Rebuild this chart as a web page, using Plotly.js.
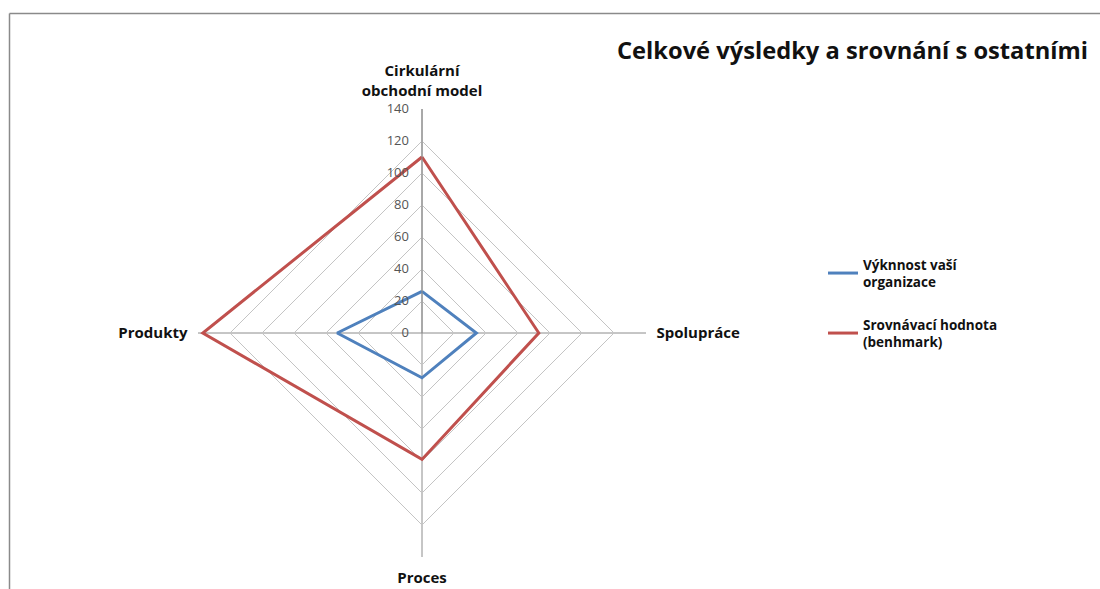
<!DOCTYPE html>
<html>
<head>
<meta charset="utf-8">
<script src="https://cdn.plot.ly/plotly-3.0.1.min.js"></script>
<style>html,body{margin:0;padding:0;background:#fff;}#chart{width:1100px;height:589px;}</style>
</head>
<body>
<div id="chart"></div>
<script>
var categories = ["Cirkulární<br>obchodní model", "Spolupráce", "Proces", "Produkty"];
var seriesNames = ["Výknnost vaší<br>organizace", "Srovnávací hodnota<br>(benhmark)"];
var performance = [26, 34, 28, 53];
var benchmark = [110, 73, 79, 137];
var radialTicks = [0, 20, 40, 60, 80, 100, 120, 140];
var colors = ["#4F81BD", "#C0504D"];
var legendIds = ["legend", "legend2"];

function closed(a) { return a.concat([a[0]]); }

var traces = [performance, benchmark].map(function (vals, i) {
  return {
    type: "scatterpolar",
    mode: "lines",
    r: closed(vals),
    theta: closed(categories),
    name: seriesNames[i],
    legend: legendIds[i],
    line: { color: colors[i], width: 3 },
    hoverinfo: "r+theta+name"
  };
});

var cx = 422, cy = 333, R = 224, W = 1100, H = 589;
var FONT = "'Open Sans', Lato, sans-serif";

function legendAt(top) {
  return {
    x: 823 / W, y: 1 - top / H, xanchor: "left", yanchor: "top",
    font: { family: FONT, size: 13.5, color: "#111", weight: "bold" },
    bgcolor: "rgba(0,0,0,0)",
    itemwidth: 30
  };
}

var layout = {
  width: W, height: H,
  margin: { l: 0, r: 0, t: 0, b: 0 },
  paper_bgcolor: "#fff",
  font: { family: FONT, color: "#000" },
  title: {
    text: "Celkové výsledky a srovnání s ostatními",
    font: { family: FONT, size: 23.7, color: "#111", weight: "bold" },
    x: 1088 / W, xanchor: "right", xref: "paper",
    y: 1 - 51 / H, yanchor: "middle", yref: "paper"
  },
  showlegend: true,
  legend: legendAt(249),
  legend2: legendAt(309),
  polar: {
    domain: { x: [(cx - R) / W, (cx + R) / W], y: [(H - cy - R) / H, (H - cy + R) / H] },
    gridshape: "linear",
    bgcolor: "#fff",
    radialaxis: {
      range: [0, 140],
      tickvals: radialTicks,
      ticktext: radialTicks.map(String),
      angle: 90,
      tickangle: 90,
      side: "counterclockwise",
      showline: true,
      linecolor: "#8c8c8c",
      linewidth: 1,
      gridcolor: "#c4c4c4",
      gridwidth: 1,
      ticks: "outside",
      ticklen: 8,
      tickcolor: "rgba(0,0,0,0)",
      tickfont: { family: FONT, size: 13, color: "#555" }
    },
    angularaxis: {
      direction: "clockwise",
      rotation: 90,
      showline: false,
      gridcolor: "#8c8c8c",
      gridwidth: 1,
      ticks: "outside",
      ticklen: 7,
      tickcolor: "rgba(0,0,0,0)",
      tickfont: { family: FONT, size: 15, color: "#111", weight: "bold" }
    }
  },
  shapes: [
    { type: "line", xref: "paper", yref: "paper", x0: 9.5 / W, x1: 1, y0: 1 - 13.5 / H, y1: 1 - 13.5 / H, line: { color: "#8a8a8a", width: 1.5 } },
    { type: "line", xref: "paper", yref: "paper", x0: 9.5 / W, x1: 9.5 / W, y0: 0, y1: 1 - 13.5 / H, line: { color: "#8a8a8a", width: 1.5 } }
  ]
};

Plotly.newPlot("chart", traces, layout, { displayModeBar: false, responsive: false });
</script>
</body>
</html>
